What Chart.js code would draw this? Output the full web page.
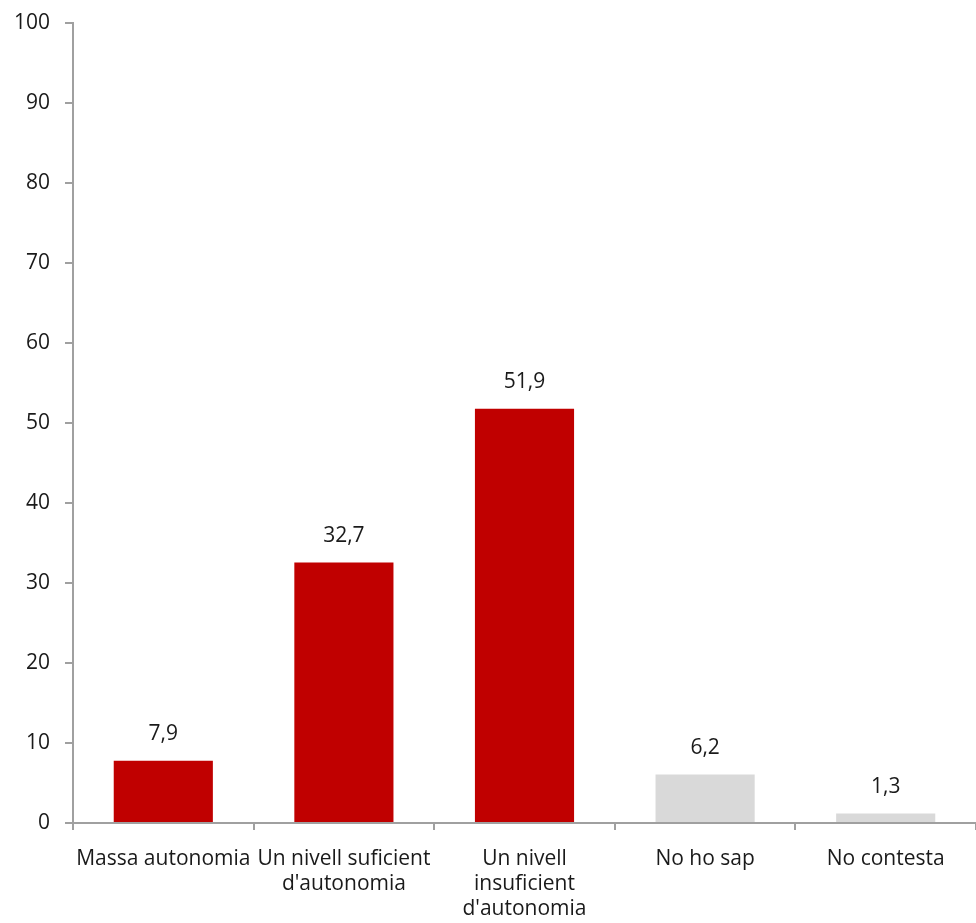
<!DOCTYPE html>
<html>
<head>
<meta charset="utf-8">
<script src="https://cdn.jsdelivr.net/npm/chart.js@4.4.1/dist/chart.umd.min.js"></script>
<style>
  html, body { margin: 0; padding: 0; background: #fff; }
  #wrap { width: 976px; height: 923px; }
</style>
</head>
<body>
<div id="wrap"><canvas id="autonomiaChart"></canvas></div>
<script>
// categories and values
const categories = [
  'Massa autonomia',
  ['Un nivell suficient', "d'autonomia"],
  ['Un nivell', 'insuficient', "d'autonomia"],
  'No ho sap',
  'No contesta'
];
const values = [7.9, 32.7, 51.9, 6.2, 1.3];
const barColors = ['#C00000', '#C00000', '#C00000', '#D9D9D9', '#D9D9D9'];
const yTicks = [0, 10, 20, 30, 40, 50, 60, 70, 80, 90, 100];

// draws the value above each bar, with a decimal comma
const valueLabels = {
  id: 'valueLabels',
  afterDatasetsDraw(chart) {
    const ctx = chart.ctx;
    const meta = chart.getDatasetMeta(0);
    ctx.save();
    ctx.font = '21px "Open Sans"';
    ctx.fillStyle = '#1a1a1a';
    ctx.textAlign = 'center';
    ctx.textBaseline = 'bottom';
    meta.data.forEach((bar, i) => {
      const txt = values[i].toFixed(1).replace('.', ',');
      ctx.fillText(txt, bar.x, bar.y - 15);
    });
    ctx.restore();
  }
};

Chart.defaults.font.family = '"Open Sans", sans-serif';
Chart.defaults.font.size = 21;
Chart.defaults.color = '#1a1a1a';

new Chart(document.getElementById('autonomiaChart'), {
  type: 'bar',
  data: {
    labels: categories,
    datasets: [{
      data: values,
      backgroundColor: barColors,
      borderColor: 'rgba(255,255,255,0.55)',
      borderWidth: 1,
      categoryPercentage: 1,
      barPercentage: 0.56
    }]
  },
  options: {
    responsive: true,
    maintainAspectRatio: false,
    animation: false,
    layout: { padding: { top: 23, right: 0, left: 0, bottom: 0 } },
    plugins: {
      legend: { display: false },
      tooltip: { enabled: false }
    },
    scales: {
      x: {
        afterFit: (scale) => { scale.height = 100; },
        border: { color: '#a0a0a0', width: 2 },
        grid: {
          offset: true,
          drawOnChartArea: false,
          drawTicks: true,
          tickLength: 7,
          color: '#a0a0a0',
          lineWidth: 2
        },
        ticks: {
          autoSkip: false,
          maxRotation: 0,
          padding: 16,
          color: '#1a1a1a',
          font: { size: 21, lineHeight: 1.2 }
        }
      },
      y: {
        min: 0,
        max: 100,
        afterFit: (scale) => {
          scale.width = 73;
          scale.paddingTop = 0;
          scale.paddingBottom = 0;
        },
        afterBuildTicks: (scale) => { scale.ticks = yTicks.map(v => ({ value: v })); },
        border: { color: '#a0a0a0', width: 2 },
        grid: {
          drawOnChartArea: false,
          drawTicks: true,
          tickLength: 8,
          color: '#a0a0a0',
          lineWidth: 2
        },
        ticks: {
          padding: 15,
          color: '#1a1a1a',
          font: { size: 21 }
        }
      }
    }
  },
  plugins: [valueLabels]
});
</script>
</body>
</html>
